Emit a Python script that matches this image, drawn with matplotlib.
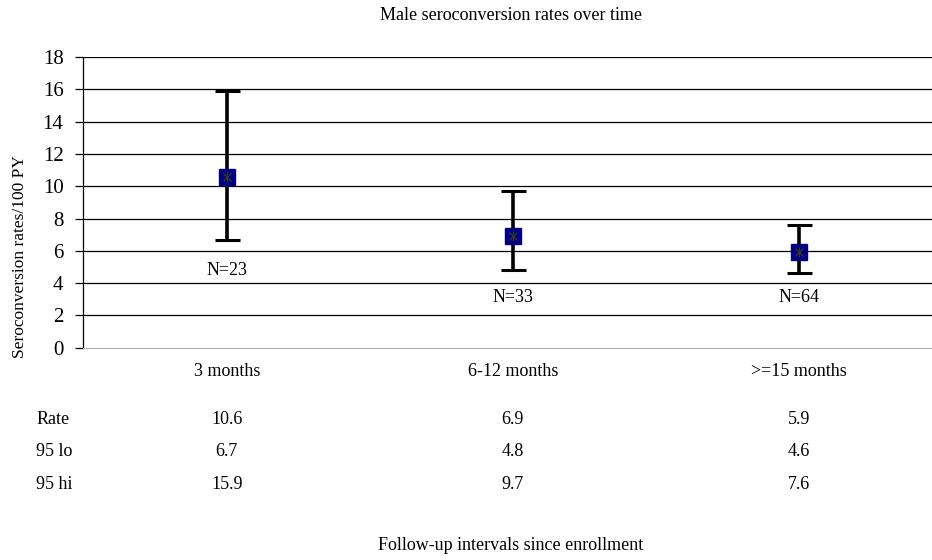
import matplotlib
matplotlib.use('Agg')
from matplotlib import pyplot as plt
from matplotlib import transforms

categories = ['3 months', '6-12 months', '>=15 months']
rate = [10.6, 6.9, 5.9]
lo95 = [6.7, 4.8, 4.6]
hi95 = [15.9, 9.7, 7.6]
n_labels = ['N=23', 'N=33', 'N=64']
n_label_y = [4.8, 3.1, 3.1]
yticks = list(range(0, 19, 2))

plt.rcParams['font.family'] = ['Liberation Serif', 'DejaVu Serif']
fs = 13

fig = plt.figure(figsize=(9.32, 5.6), dpi=100)
ax = fig.add_axes([0.089, 0.379, 0.911, 0.519])

x = list(range(len(categories)))
yerr = [[r - l for r, l in zip(rate, lo95)], [h - r for r, h in zip(rate, hi95)]]

# gridlines
for t in yticks[1:]:
    ax.axhline(t, color='black', lw=0.9, zorder=1)

ax.errorbar(x, rate, yerr=yerr, fmt='none', ecolor='black', elinewidth=2.6,
            capsize=9, capthick=2.2, zorder=3)
ax.plot(x, rate, linestyle='none', marker='s', markersize=11,
        markerfacecolor='#000080', markeredgecolor='#000080', zorder=4)
ax.plot(x, rate, linestyle='none', marker='x', markersize=6,
        markeredgecolor='#3a3a20', markeredgewidth=0.9, zorder=5)
ax.plot(x, rate, linestyle='none', marker='|', markersize=7,
        markeredgecolor='#3a3a20', markeredgewidth=0.9, zorder=5)

for xi, lab, yy in zip(x, n_labels, n_label_y):
    ax.text(xi, yy, lab, ha='center', va='center', fontsize=fs)

ax.set_xlim(-0.503, 2.465)
ax.set_ylim(0, 18)
ax.set_yticks(yticks)
ax.set_xticks([])
ax.tick_params(axis='y', labelsize=fs + 2, length=6, width=0.9, direction='out', pad=8)
for s in ['top', 'right']:
    ax.spines[s].set_visible(False)
ax.spines['bottom'].set_color('#b0b0b0')
ax.spines['left'].set_linewidth(0.9)
fig.text(0.021, 1 - 257 / 560, 'Seroconversion rates/100 PY', rotation=90,
         ha='center', va='center', fontsize=12.5)

# table under the chart
tr = transforms.blended_transform_factory(ax.transData, fig.transFigure)
for xi, c in zip(x, categories):
    fig.text(xi, 0.3375, c, transform=tr, ha='center', va='center', fontsize=fs)
rows = [('Rate', rate, 0.25), ('95 lo', lo95, 0.193), ('95 hi', hi95, 0.134)]
for name, vals, yy in rows:
    fig.text(0.039, yy, name, ha='left', va='center', fontsize=fs)
    for xi, v in zip(x, vals):
        fig.text(xi, yy, f'{v:.1f}', transform=tr, ha='center', va='center', fontsize=fs)

fig.text(0.548, 0.026, 'Follow-up intervals since enrollment', ha='center', va='center', fontsize=fs)
fig.text(0.548, 0.972, 'Male seroconversion rates over time', ha='center', va='center', fontsize=fs)

fig.savefig('out.png', dpi=100)
